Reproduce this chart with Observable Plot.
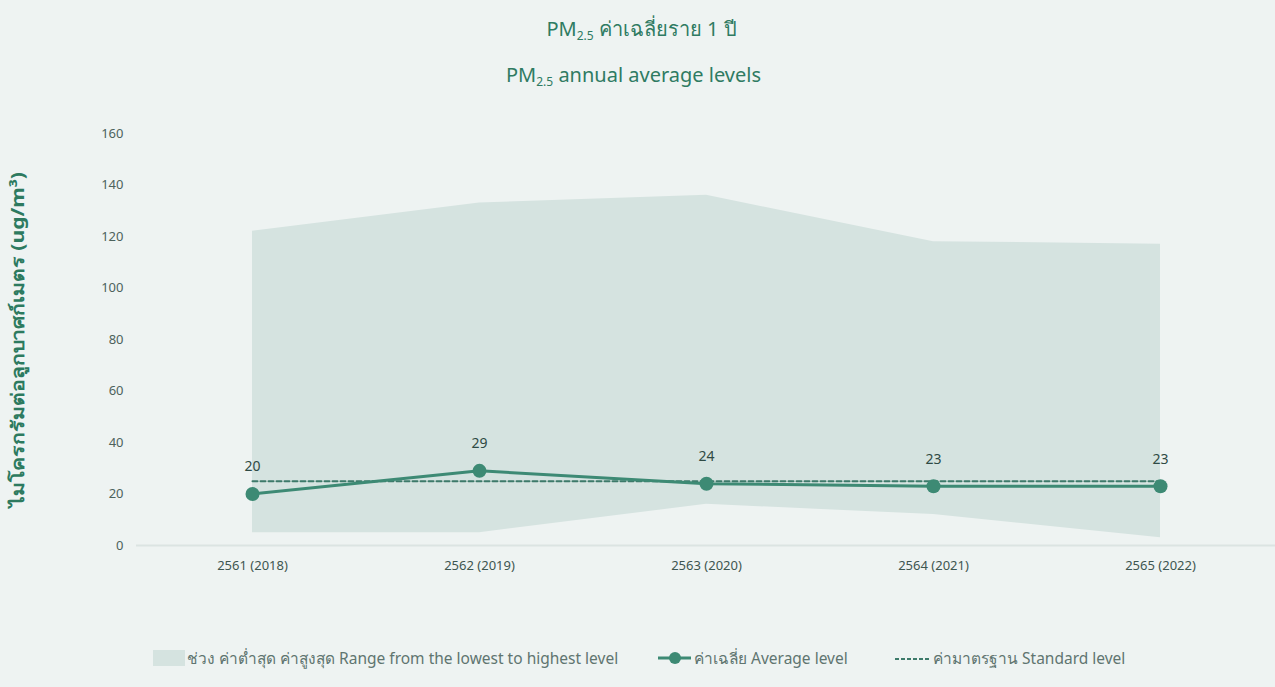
<!DOCTYPE html>
<html>
<head>
<meta charset="utf-8">
<script src="https://cdn.jsdelivr.net/npm/d3@7"></script>
<script src="https://cdn.jsdelivr.net/npm/@observablehq/plot@0.6"></script>
<style>
  html, body { margin: 0; padding: 0; }
  body { width: 1275px; height: 687px; background: #eef3f2; position: relative; overflow: hidden;
         font-family: "Noto Sans", "Open Sans", sans-serif; }
  .title { position: absolute; left: 0; width: 1275px; text-align: center; color: #2f7b62; font-size: 20px; }
  .title sub { font-size: 12px; vertical-align: -4px; }
  #t1 { top: 13px; left: 4px; }
  #t2 { top: 61px; left: -4px; }
  #chart { position: absolute; left: 0; top: 100px; }
  #legend { position: absolute; top: 645px; left: 0; width: 1275px; height: 26px; font-size: 15.5px; color: #607570; }
  .li { position: absolute; top: 0; height: 26px; display: flex; align-items: center; white-space: nowrap; }
</style>
</head>
<body>
<div class="title" id="t1">PM<sub>2.5</sub> ค่าเฉลี่ยราย 1 ปี</div>
<div class="title" id="t2">PM<sub>2.5</sub> annual average levels</div>
<div id="chart"></div>
<div id="legend">
  <div class="li" style="left:153px"><svg width="34" height="18"><rect x="0" y="1" width="32" height="16" fill="#d5e3e0"/></svg><span>ช่วง ค่าต่ำสุด ค่าสูงสุด Range from the lowest to highest level</span></div>
  <div class="li" style="left:658px"><svg width="36" height="18"><line x1="0" y1="9" x2="33" y2="9" stroke="#3d8a74" stroke-width="3"/><circle cx="17" cy="9" r="6" fill="#3d8a74"/></svg><span>ค่าเฉลี่ย Average level</span></div>
  <div class="li" style="left:895px"><svg width="38" height="18"><line x1="0" y1="10" x2="36" y2="10" stroke="#3d7a6a" stroke-width="2" stroke-dasharray="4,2"/></svg><span>ค่ามาตรฐาน Standard level</span></div>
</div>
<script>
const years = ["2561 (2018)", "2562 (2019)", "2563 (2020)", "2564 (2021)", "2565 (2022)"];
const lowest = [5, 5, 16, 12, 3];
const highest = [122, 133, 136, 118, 117];
const average = [20, 29, 24, 23, 23];
const standardLevel = 25;
const yTicks = [0, 20, 40, 60, 80, 100, 120, 140, 160];
const yLabel = "ไมโครกรัมต่อลูกบาศก์เมตร (ug/m³)";

const data = years.map((y, i) => ({year: y, lo: lowest[i], hi: highest[i], avg: average[i], std: standardLevel}));

const lineColor = "#3d8a74";
const plot = Plot.plot({
  width: 1275,
  height: 490,
  marginLeft: 136,
  marginRight: 0,
  marginTop: 33,
  marginBottom: 45,
  style: {background: "transparent", fontFamily: "'Noto Sans', sans-serif", fontSize: "13px", color: "#4d625c"},
  x: {type: "point", domain: years, padding: 0.5, label: null},
  y: {domain: [0, 160], label: null},
  marks: [
    Plot.areaY(data, {x: "year", y1: "lo", y2: "hi", fill: "#d5e3e0", curve: "linear"}),
    Plot.ruleY([0], {stroke: "#dbe4e2", strokeWidth: 2}),
    Plot.axisY({ticks: yTicks, tickSize: 0, tickPadding: 13, label: null, fontSize: 13}),
    Plot.axisX({tickSize: 0, tickPadding: 15, label: null, fontSize: 13, fill: "#3e5650"}),
    Plot.text([yLabel], {frameAnchor: "left", textAnchor: "middle", rotate: -90, dx: -118, fontSize: 18, fontWeight: "bold", fill: "#2d7a5f", fontFamily: "'Noto Sans', sans-serif", className: "ylab"}),
    Plot.line(data, {x: "year", y: "std", stroke: "#3d7a6a", strokeWidth: 2, strokeDasharray: "5,3"}),
    Plot.line(data, {x: "year", y: "avg", stroke: lineColor, strokeWidth: 3}),
    Plot.dot(data, {x: "year", y: "avg", r: 7, fill: lineColor, stroke: "none"}),
    Plot.text(data, {x: "year", y: "avg", text: d => String(d.avg), dy: -27, fontSize: 14, fill: "#2f4a44"})
  ]
});
// compress the long rotated axis title to the reference's length
plot.querySelectorAll(".ylab text").forEach(t => {
  t.setAttribute("textLength", "335");
  t.setAttribute("lengthAdjust", "spacingAndGlyphs");
});
document.getElementById("chart").appendChild(plot);
</script>
</body>
</html>
